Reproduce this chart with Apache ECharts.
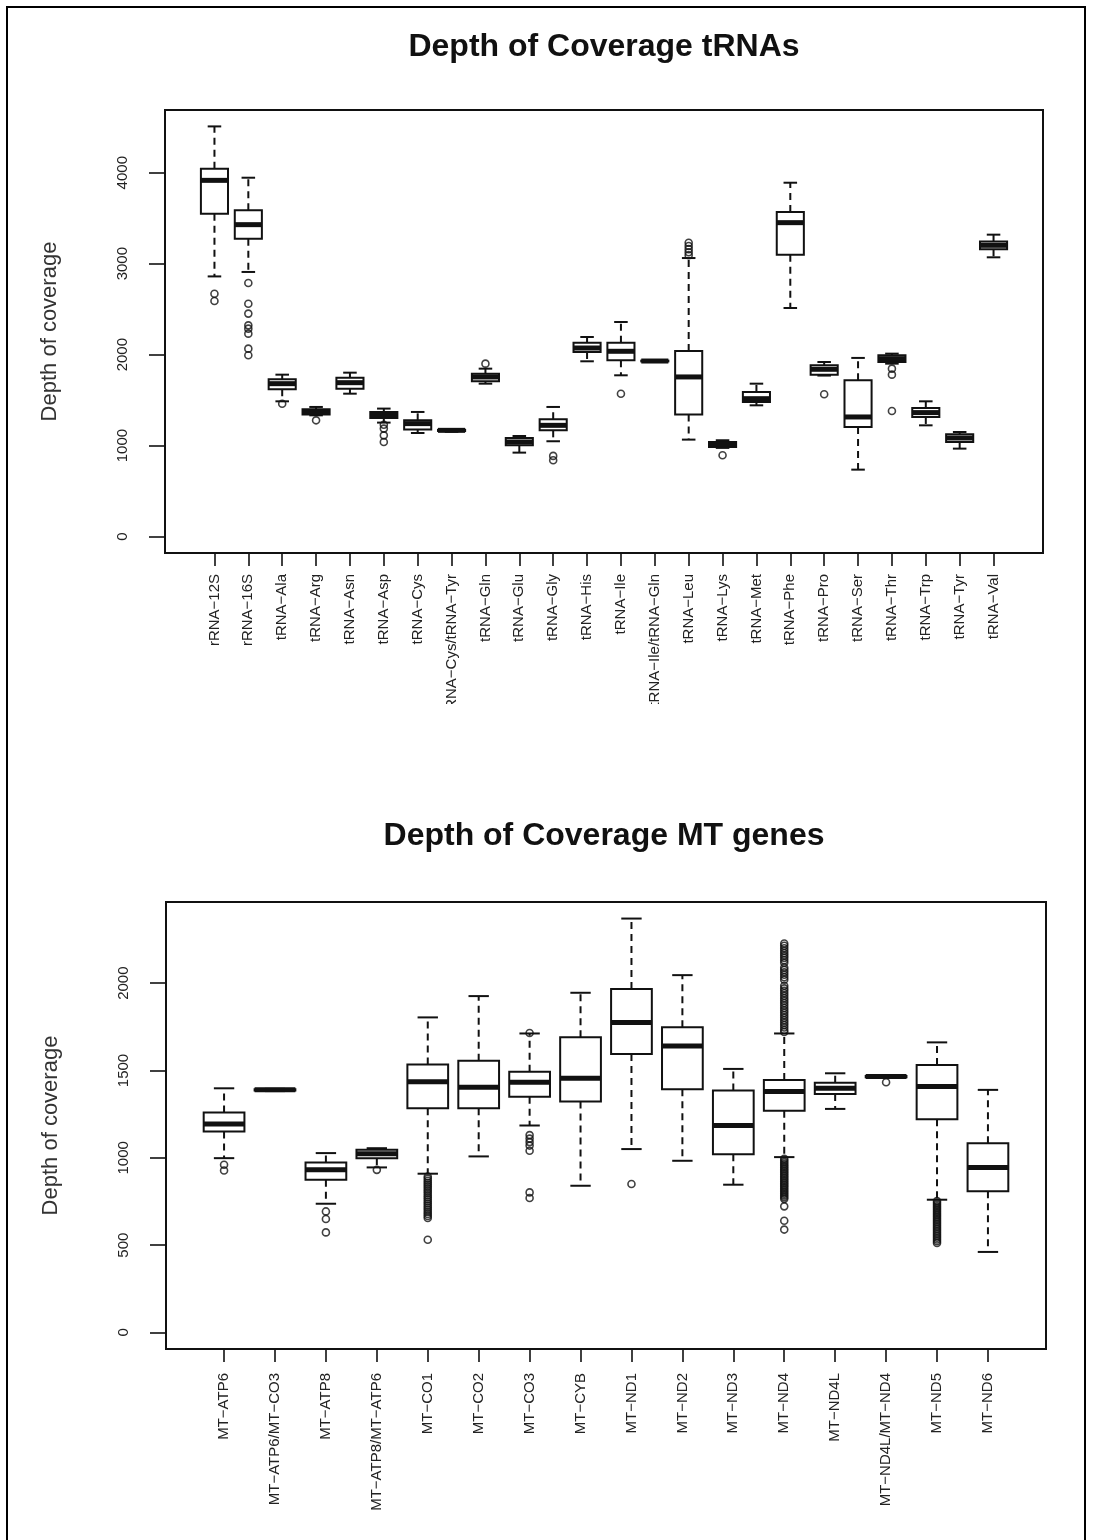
<!DOCTYPE html>
<html>
<head>
<meta charset="utf-8">
<script src="https://cdn.jsdelivr.net/npm/echarts@6/dist/echarts.min.js"></script>
<style>
  html, body { margin: 0; padding: 0; background: #fff; }
  #chart { width: 1094px; height: 1540px; }
</style>
</head>
<body>
<div id="chart"></div>
<script>
// ---------- Top chart: tRNAs ----------
const titleTop = 'Depth of Coverage tRNAs';
const categoriesTop = ['rRNA−12S','rRNA−16S','tRNA−Ala','tRNA−Arg','tRNA−Asn','tRNA−Asp','tRNA−Cys',
  'tRNA−Cys/tRNA−Tyr','tRNA−Gln','tRNA−Glu','tRNA−Gly','tRNA−His','tRNA−Ile','tRNA−Ile/tRNA−Gln',
  'tRNA−Leu','tRNA−Lys','tRNA−Met','tRNA−Phe','tRNA−Pro','tRNA−Ser','tRNA−Thr','tRNA−Trp','tRNA−Tyr','tRNA−Val'];
// [lower whisker, Q1, median, Q3, upper whisker]
const boxesTop = [
  [2860, 3549, 3916, 4044, 4509],
  [2909, 3275, 3429, 3586, 3945],
  [1487, 1619, 1681, 1729, 1780],
  [1333, 1341, 1370, 1399, 1425],
  [1571, 1626, 1692, 1747, 1802],
  [1253, 1304, 1341, 1370, 1407],
  [1139, 1176, 1242, 1278, 1370],
  [1152, 1161, 1168, 1174, 1180],
  [1681, 1707, 1755, 1791, 1846],
  [923, 1004, 1040, 1084, 1106],
  [1048, 1168, 1223, 1289, 1425],
  [1927, 2029, 2073, 2132, 2194],
  [1773, 1938, 2037, 2132, 2359],
  [1923, 1926, 1930, 1934, 1937],
  [1066, 1341, 1755, 2040, 3062],
  [975, 986, 1015, 1040, 1059],
  [1443, 1480, 1516, 1590, 1681],
  [2513, 3099, 3451, 3568, 3890],
  [1770, 1780, 1839, 1883, 1919],
  [736, 1205, 1315, 1718, 1964],
  [1901, 1919, 1956, 1993, 2011],
  [1223, 1315, 1363, 1414, 1487],
  [967, 1040, 1084, 1124, 1150],
  [3070, 3158, 3202, 3245, 3319]
];
// outliers: [category, value]
const outliersTop = [
  ['rRNA−12S', 2670], ['rRNA−12S', 2590],
  ['rRNA−16S', 2788], ['rRNA−16S', 2560], ['rRNA−16S', 2451], ['rRNA−16S', 2322], ['rRNA−16S', 2286],
  ['rRNA−16S', 2231], ['rRNA−16S', 2066], ['rRNA−16S', 1993],
  ['tRNA−Ala', 1461], ['tRNA−Arg', 1278],
  ['tRNA−Asp', 1230], ['tRNA−Asp', 1187], ['tRNA−Asp', 1113], ['tRNA−Asp', 1040],
  ['tRNA−Gln', 1901], ['tRNA−Gly', 887], ['tRNA−Gly', 839], ['tRNA−Ile', 1571],
  ['tRNA−Leu', 3092], ['tRNA−Leu', 3125], ['tRNA−Leu', 3160], ['tRNA−Leu', 3195], ['tRNA−Leu', 3230],
  ['tRNA−Lys', 894], ['tRNA−Pro', 1564],
  ['tRNA−Thr', 1846], ['tRNA−Thr', 1780], ['tRNA−Thr', 1381]
];
const yTicksTop = [0, 1000, 2000, 3000, 4000];

// ---------- Bottom chart: MT genes ----------
const titleBottom = 'Depth of Coverage MT genes';
const categoriesBottom = ['MT−ATP6','MT−ATP6/MT−CO3','MT−ATP8','MT−ATP8/MT−ATP6','MT−CO1','MT−CO2','MT−CO3',
  'MT−CYB','MT−ND1','MT−ND2','MT−ND3','MT−ND4','MT−ND4L','MT−ND4L/MT−ND4','MT−ND5','MT−ND6'];
const boxesBottom = [
  [998, 1150, 1194, 1259, 1398],
  [1382, 1385, 1389, 1392, 1395],
  [737, 874, 931, 973, 1027],
  [945, 998, 1023, 1046, 1055],
  [909, 1284, 1436, 1535, 1804],
  [1008, 1284, 1404, 1556, 1926],
  [1185, 1350, 1432, 1493, 1712],
  [840, 1322, 1455, 1690, 1945],
  [1050, 1594, 1775, 1966, 2370],
  [983, 1393, 1640, 1747, 2046],
  [846, 1021, 1185, 1385, 1509],
  [1004, 1269, 1379, 1446, 1712],
  [1280, 1366, 1398, 1430, 1484],
  [1457, 1461, 1465, 1469, 1473],
  [760, 1221, 1408, 1531, 1661],
  [461, 808, 945, 1084, 1389]
];
const outlierValuesCO1 = [893, 881, 869, 857, 846, 834, 822, 810, 798, 786, 774, 762, 750, 738, 726, 714, 702, 690, 678, 667, 655, 531];
const outlierValuesND4 = [2227, 2214, 2200, 2186, 2172, 2158, 2145, 2131, 2117, 2090, 2076, 2062, 2048, 2034, 2020, 1985, 1970, 1956,
  1942, 1928, 1914, 1900, 1886, 1872, 1858, 1844, 1830, 1816, 1802, 1788, 1774, 1760, 1746, 1732, 1720,
  995, 985, 975, 965, 955, 945, 935, 925, 915, 905, 895, 885, 875, 865, 855, 845, 835, 825, 815, 805, 795, 785, 775, 765,
  722, 640, 589];
const outlierValuesND5 = [752, 742, 732, 722, 712, 702, 692, 682, 672, 662, 652, 642, 632, 622, 612, 602, 592, 582, 572, 562, 552, 542, 532, 522, 512];
const outliersBottomOther = [
  ['MT−ATP6', 960], ['MT−ATP6', 927],
  ['MT−ATP8', 693], ['MT−ATP8', 650], ['MT−ATP8', 573],
  ['MT−ATP8/MT−ATP6', 931],
  ['MT−CO3', 1715], ['MT−CO3', 1130], ['MT−CO3', 1110], ['MT−CO3', 1090], ['MT−CO3', 1070], ['MT−CO3', 1040],
  ['MT−CO3', 802], ['MT−CO3', 770],
  ['MT−ND1', 850], ['MT−ND4L/MT−ND4', 1433]
];
const yTicksBottom = [0, 500, 1000, 1500, 2000];
const yAxisName = 'Depth of coverage';

// ---------- build ----------
const FONT = '"Liberation Sans", Arial, Helvetica, sans-serif';
const INK = '#111';

function toOutlierData(pairs, cats) {
  return pairs.map(p => [cats.indexOf(p[0]) + 1, p[1]]);
}
const outliersBottom = outliersBottomOther
  .concat(outlierValuesCO1.map(v => ['MT−CO1', v]))
  .concat(outlierValuesND4.map(v => ['MT−ND4', v]))
  .concat(outlierValuesND5.map(v => ['MT−ND5', v]));

function rangeOf(boxes, outs) {
  let hi = 0;
  boxes.forEach(b => b.forEach(v => { if (v > hi) hi = v; }));
  outs.forEach(o => { if (o[1] > hi) hi = o[1]; });
  const pad = 0.04 * hi;
  return [-pad, hi + pad];
}

function renderBox(params, api) {
  const x = api.value(0);
  const lo = api.coord([x, api.value(1)]);
  const q1 = api.coord([x, api.value(2)]);
  const md = api.coord([x, api.value(3)]);
  const q3 = api.coord([x, api.value(4)]);
  const hi = api.coord([x, api.value(5)]);
  const w = api.size([0.8, 0])[0];
  const cx = lo[0];
  const half = w / 2, cap = w / 4;
  const dash = { stroke: INK, lineWidth: 2, lineDash: [7, 5] };
  const solid = { stroke: INK, lineWidth: 2 };
  return {
    type: 'group',
    children: [
      { type: 'line', shape: { x1: cx, y1: q3[1], x2: cx, y2: hi[1] }, style: dash },
      { type: 'line', shape: { x1: cx, y1: q1[1], x2: cx, y2: lo[1] }, style: dash },
      { type: 'line', shape: { x1: cx - cap, y1: hi[1], x2: cx + cap, y2: hi[1] }, style: solid },
      { type: 'line', shape: { x1: cx - cap, y1: lo[1], x2: cx + cap, y2: lo[1] }, style: solid },
      { type: 'rect', shape: { x: cx - half, y: q3[1], width: w, height: q1[1] - q3[1] },
        style: { fill: 'none', stroke: INK, lineWidth: 2 } },
      { type: 'line', shape: { x1: cx - half, y1: md[1], x2: cx + half, y2: md[1] },
        style: { stroke: INK, lineWidth: 5 } }
    ]
  };
}

function panel(idx, cats, boxes, outs, yTicks, labelMargin) {
  const n = cats.length;
  const xpad = 0.04 * n;
  const positions = cats.map((c, i) => i + 1);
  const yr = rangeOf(boxes, outs);
  const xAxis = {
    type: 'value', gridIndex: idx, min: 0.5 - xpad, max: n + 0.5 + xpad, position: 'bottom',
    splitLine: { show: false }, axisLine: { show: false, onZero: false },
    axisTick: { show: true, customValues: positions, length: 13, lineStyle: { color: INK, width: 1.6 } },
    axisLabel: {
      show: true, customValues: positions, rotate: 90, margin: labelMargin,
      formatter: v => cats[Math.round(v) - 1] || '',
      fontFamily: FONT, fontSize: 15, color: '#222'
    }
  };
  const yAxis = {
    type: 'value', gridIndex: idx, min: yr[0], max: yr[1], position: 'left',
    splitLine: { show: false }, axisLine: { show: false, onZero: false },
    axisTick: { show: true, customValues: yTicks, length: 16, lineStyle: { color: INK, width: 1.6 } },
    axisLabel: {
      show: true, customValues: yTicks, rotate: 90, margin: 35,
      formatter: v => String(Math.round(v)),
      fontFamily: FONT, fontSize: 15, color: '#222'
    },
    name: yAxisName, nameLocation: 'middle', nameRotate: 90, nameGap: 104,
    nameTextStyle: { fontFamily: FONT, fontSize: 22, color: '#333' }
  };
  const series = [
    {
      type: 'custom', xAxisIndex: idx, yAxisIndex: idx, clip: false,
      renderItem: renderBox,
      encode: { x: 0, y: [1, 2, 3, 4, 5] },
      data: boxes.map((b, i) => [i + 1].concat(b)),
      silent: true, z: 3
    },
    {
      type: 'scatter', xAxisIndex: idx, yAxisIndex: idx,
      symbol: 'circle', symbolSize: 7,
      itemStyle: { color: 'rgba(0,0,0,0)', borderColor: INK, borderWidth: 1.6 },
      data: toOutlierData(outs, cats), silent: true, z: 4
    }
  ];
  return { xAxis, yAxis, series };
}

const pTop = panel(0, categoriesTop, boxesTop, outliersTop, yTicksTop, 21);
const pBot = panel(1, categoriesBottom, boxesBottom, outliersBottom, yTicksBottom, 24);

const option = {
  backgroundColor: '#fff',
  animation: false,
  title: [
    { text: titleTop, left: 604, top: 31, textAlign: 'center', padding: 0,
      textStyle: { fontFamily: FONT, fontSize: 32, fontWeight: 'bold', color: '#111' } },
    { text: titleBottom, left: 604, top: 820, textAlign: 'center', padding: 0,
      textStyle: { fontFamily: FONT, fontSize: 32, fontWeight: 'bold', color: '#111' } }
  ],
  grid: [
    { left: 165, top: 110, width: 878, height: 443, show: true, borderColor: INK, borderWidth: 2, backgroundColor: 'transparent' },
    { left: 166, top: 902, width: 880, height: 447, show: true, borderColor: INK, borderWidth: 2, backgroundColor: 'transparent' }
  ],
  xAxis: [pTop.xAxis, pBot.xAxis],
  yAxis: [pTop.yAxis, pBot.yAxis],
  series: pTop.series.concat(pBot.series),
  graphic: [
    // figure-region clipping of long axis labels
    { type: 'rect', shape: { x: 150, y: 704, width: 900, height: 90 }, style: { fill: '#fff' }, z: 100 },
    { type: 'rect', shape: { x: 150, y: 1530, width: 900, height: 20 }, style: { fill: '#fff' }, z: 100 },
    // outer frame of the picture
    { type: 'rect', shape: { x: 7, y: 7, width: 1078, height: 1560 }, style: { fill: 'none', stroke: '#000', lineWidth: 2 }, z: 101 }
  ]
};

const chart = echarts.init(document.getElementById('chart'), null, { renderer: 'canvas' });
chart.setOption(option);
</script>
</body>
</html>
